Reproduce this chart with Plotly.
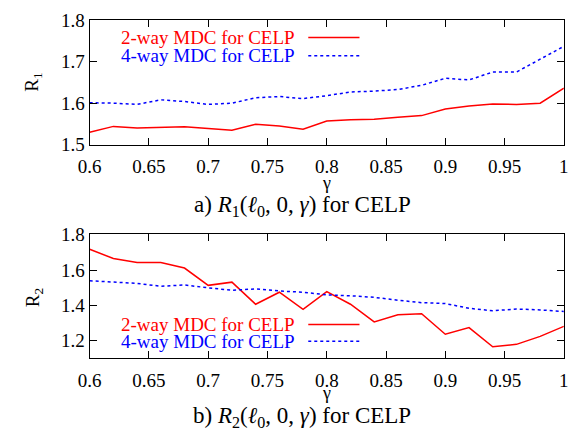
import plotly.graph_objects as go

gamma = [0.60, 0.62, 0.64, 0.66, 0.68, 0.70, 0.72, 0.74, 0.76, 0.78, 0.80,
         0.82, 0.84, 0.86, 0.88, 0.90, 0.92, 0.94, 0.96, 0.98, 1.00]

r1_2way = [1.530, 1.544, 1.540, 1.541, 1.543, 1.539, 1.535, 1.549, 1.545, 1.537, 1.557,
           1.560, 1.561, 1.566, 1.570, 1.586, 1.593, 1.598, 1.597, 1.600, 1.636]
r1_4way = [1.601, 1.600, 1.597, 1.608, 1.604, 1.597, 1.600, 1.613, 1.616, 1.611, 1.618,
           1.627, 1.629, 1.633, 1.643, 1.660, 1.656, 1.675, 1.675, 1.706, 1.737]

r2_2way = [1.718, 1.666, 1.643, 1.643, 1.612, 1.514, 1.532, 1.407, 1.475, 1.378, 1.478,
           1.407, 1.307, 1.348, 1.353, 1.237, 1.275, 1.166, 1.180, 1.225, 1.282]
r2_4way = [1.540, 1.534, 1.525, 1.509, 1.516, 1.500, 1.486, 1.494, 1.482, 1.475, 1.460,
           1.455, 1.446, 1.430, 1.416, 1.411, 1.384, 1.370, 1.380, 1.375, 1.366]

series_names = ["2-way MDC for CELP", "4-way MDC for CELP"]
x_ticks = [0.6, 0.65, 0.7, 0.75, 0.8, 0.85, 0.9, 0.95, 1.0]
x_tick_text = ["0.6", "0.65", "0.7", "0.75", "0.8", "0.85", "0.9", "0.95", "1"]
y1_ticks = [1.5, 1.6, 1.7, 1.8]
y2_ticks = [1.2, 1.4, 1.6, 1.8]

FONT = "Times New Roman, Liberation Serif, DejaVu Serif, serif"
RED = "#ff0000"
BLUE = "#0000ff"

fig = go.Figure()
fig.add_trace(go.Scatter(x=gamma, y=r1_2way, mode="lines", line=dict(color=RED, width=1.5),
                         xaxis="x", yaxis="y", showlegend=False))
fig.add_trace(go.Scatter(x=gamma, y=r1_4way, mode="lines", line=dict(color=BLUE, width=1.5, dash="dot"),
                         xaxis="x", yaxis="y", showlegend=False))
fig.add_trace(go.Scatter(x=gamma, y=r2_2way, mode="lines", line=dict(color=RED, width=1.5),
                         xaxis="x2", yaxis="y2", showlegend=False))
fig.add_trace(go.Scatter(x=gamma, y=r2_4way, mode="lines", line=dict(color=BLUE, width=1.5, dash="dot"),
                         xaxis="x2", yaxis="y2", showlegend=False))

xd = [80 / 581, 568.5 / 581]
common_x = dict(range=[0.6, 1.0], tickvals=x_ticks, ticktext=x_tick_text, ticks="inside",
                ticklen=7, tickcolor="black", showline=True, linecolor="black", linewidth=1,
                mirror="ticks", showgrid=False, zeroline=False, domain=xd,
                tickfont=dict(family=FONT, size=19, color="black"), ticklabelstandoff=5)
common_y = dict(ticks="inside", ticklen=7, tickcolor="black", showline=True, linecolor="black",
                linewidth=1, mirror="ticks", showgrid=False, zeroline=False,
                tickfont=dict(family=FONT, size=19, color="black"), ticksuffix="\u2009")

fig.update_layout(
    width=581, height=446, margin=dict(l=0, r=0, t=0, b=0),
    paper_bgcolor="white", plot_bgcolor="white",
    xaxis=dict(**common_x, anchor="y"),
    yaxis=dict(**common_y, range=[1.5, 1.8], tickvals=y1_ticks,
               ticktext=["1.5", "1.6", "1.7", "1.8"], anchor="x",
               domain=[1 - 141.3 / 446, 1 - 10.7 / 446]),
    xaxis2=dict(**common_x, anchor="y2"),
    yaxis2=dict(**common_y, range=[1.1, 1.805], tickvals=y2_ticks,
                ticktext=["1.2", "1.4", "1.6", "1.8"], anchor="x2",
                domain=[1 - 365.7 / 446, 1 - 235 / 446]),
)

ann = []
# legends (gnuplot style: text right-aligned, sample on right)
leg = [("x domain", "y domain", 0.86, 0.714), ("x2 domain", "y2 domain", 0.273, 0.138)]
for xr, yr, ya, yb in leg:
    for name, col, dash, yy in [(series_names[0], RED, "solid", ya), (series_names[1], BLUE, "dot", yb)]:
        ann.append(dict(xref=xr, yref=yr, x=0.437, y=yy, text=name, showarrow=False,
                        xanchor="right", yanchor="middle",
                        font=dict(family=FONT, size=19, color=col)))
        fig.add_shape(type="line", xref=xr, yref=yr, x0=0.461, x1=0.569, y0=yy, y1=yy,
                      line=dict(color=col, width=1.5, dash=dash))

cx = (xd[0] + xd[1]) / 2
capx = 299 / 581
ann += [
    dict(xref="paper", yref="paper", x=cx, y=1 - 182 / 446, text="γ", showarrow=False,
         xanchor="center", yanchor="middle", font=dict(family=FONT, size=18, color="black")),
    dict(xref="paper", yref="paper", x=cx, y=1 - 402 / 446, text="γ", showarrow=False,
         xanchor="center", yanchor="middle", font=dict(family=FONT, size=18, color="black")),
    dict(xref="paper", yref="paper", x=capx, y=1 - 206 / 446,
         text="a) <i>R</i><sub>1</sub>(<i>ℓ</i><sub>0</sub>, 0, <i>γ</i>) for CELP",
         showarrow=False, xanchor="center", yanchor="middle",
         font=dict(family=FONT, size=23, color="black")),
    dict(xref="paper", yref="paper", x=capx, y=1 - 427 / 446,
         text="b) <i>R</i><sub>2</sub>(<i>ℓ</i><sub>0</sub>, 0, <i>γ</i>) for CELP",
         showarrow=False, xanchor="center", yanchor="middle",
         font=dict(family=FONT, size=23, color="black")),
    dict(xref="paper", yref="paper", x=22 / 581, y=1 - 76 / 446, text="R<sub>1</sub>",
         showarrow=False, textangle=-90, xanchor="center", yanchor="middle",
         font=dict(family=FONT, size=19, color="black")),
    dict(xref="paper", yref="paper", x=22 / 581, y=1 - 302 / 446, text="R<sub>2</sub>",
         showarrow=False, textangle=-90, xanchor="center", yanchor="middle",
         font=dict(family=FONT, size=19, color="black")),
]
fig.update_layout(annotations=ann)

fig.write_html("out.html")
